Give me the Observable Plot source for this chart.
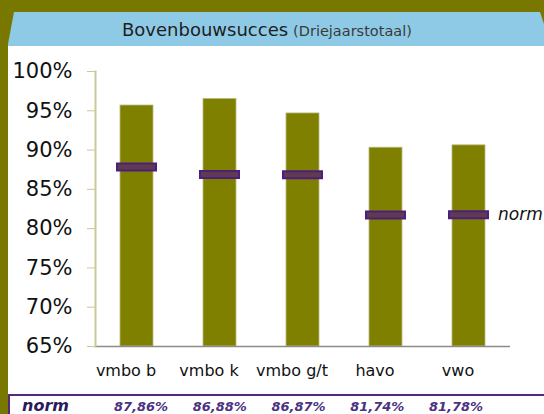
<!DOCTYPE html>
<html><head><meta charset="utf-8">
<script src="https://cdn.jsdelivr.net/npm/d3@7"></script>
<script src="https://cdn.jsdelivr.net/npm/@observablehq/plot@0.6"></script>
<style>
body{margin:0;background:#787800;}
#wrap{position:relative;width:544px;height:414px;background:#787800;overflow:hidden;font-family:"DejaVu Sans",Verdana,sans-serif;}
#hdr{position:absolute;left:0;top:0;}
#panel{position:absolute;left:8px;top:46px;width:536px;height:368px;background:#fff;}
#chart{position:absolute;left:8px;top:46px;}
#table{position:absolute;left:8px;top:394px;width:536px;height:18px;border-top:2px solid #55287a;border-left:2px solid #55287a;}
#table span{position:absolute;white-space:nowrap;font-weight:bold;font-style:italic;line-height:1;}
</style>
</head><body>
<div id="wrap">
  <svg id="hdr" width="544" height="47">
    <polygon points="14,12 540,12 544,24 544,46 8,46 8,44" fill="#8ecae6"/>
    <line x1="8" y1="46.5" x2="544" y2="46.5" stroke="#d8eef8" stroke-width="1"/>
    <text x="122" y="36" font-family="DejaVu Sans, Verdana, sans-serif" fill="#1e1e1e"><tspan font-size="18">Bovenbouwsucces</tspan><tspan font-size="14.5" fill="#3a3a3a" dx="5">(Driejaarstotaal)</tspan></text>
  </svg>
  <div id="panel"></div>
  <div id="chart"></div>
  <div id="table"></div>
</div>
<script>
const categories = ["vmbo b", "vmbo k", "vmbo g/t", "havo", "vwo"];
const success = [0.9567, 0.9650, 0.9466, 0.9030, 0.9060];
const norm = [0.8786, 0.8688, 0.8687, 0.8174, 0.8178];
const yTicks = [0.65, 0.70, 0.75, 0.80, 0.85, 0.90, 0.95, 1.00];
const normLabel = "norm";

const data = categories.map((c, i) => ({cat: c, success: success[i], norm: norm[i]}));

const chart = Plot.plot({
  width: 536, height: 348,
  marginLeft: 87, marginRight: 34, marginTop: 25, marginBottom: 48,
  style: {fontFamily: "DejaVu Sans, Verdana, sans-serif", background: "transparent", color: "#111"},
  x: {domain: categories, paddingInner: 0.6, paddingOuter: 0.3, axis: null},
  y: {domain: [0.65, 1.0], axis: null},
  marks: [
    Plot.barY(data, {x: "cat", y1: 0.65, y2: "success", fill: "#7f7f00", stroke: "#b8b880", strokeWidth: 0.8}),
    Plot.tickY(data, {x: "cat", y: "norm", stroke: "#4e1f78", strokeWidth: 9, insetLeft: -4, insetRight: -4}),
    Plot.tickY(data, {x: "cat", y: "norm", stroke: "#5e3a55", strokeWidth: 5, insetLeft: -2, insetRight: -2}),
    Plot.text(data.slice(-1), {x: "cat", y: "norm", text: () => normLabel, dx: 29, textAnchor: "start", fontStyle: "italic", fontSize: 17, fill: "#111"}),
    Plot.axisY({ticks: yTicks, tickFormat: d => Math.round(d * 100) + "%", tickSize: 8, tickPadding: 15, stroke: "#c9c99a", fill: "#111", fontSize: 21, label: null}),
    Plot.axisX({tickSize: 0, tickPadding: 18, fontSize: 16, fill: "#111", dx: -11, label: null}),
    Plot.ruleY([0.65], {stroke: "#8c8c8c", strokeWidth: 1.5}),
    Plot.frame({anchor: "left", stroke: "#c9c99a", strokeWidth: 2})
  ]
});
document.getElementById("chart").appendChild(chart);

// norm table below the chart
const table = document.getElementById("table");
const colX = d3.scalePoint().domain(categories).range([141, 456]);
const fmt = v => (v * 100).toFixed(2).replace(".", ",") + "%";
const head = document.createElement("span");
head.textContent = normLabel;
head.style.cssText = "left:12px;top:2px;font-size:16px;color:#2a1a5c;";
table.appendChild(head);
categories.forEach((c, i) => {
  const s = document.createElement("span");
  s.textContent = fmt(norm[i]);
  s.style.cssText = `left:${colX(c) - 10}px;top:4px;font-size:13px;color:#4a3282;transform:translateX(-50%);`;
  table.appendChild(s);
});
</script>
</body></html>
